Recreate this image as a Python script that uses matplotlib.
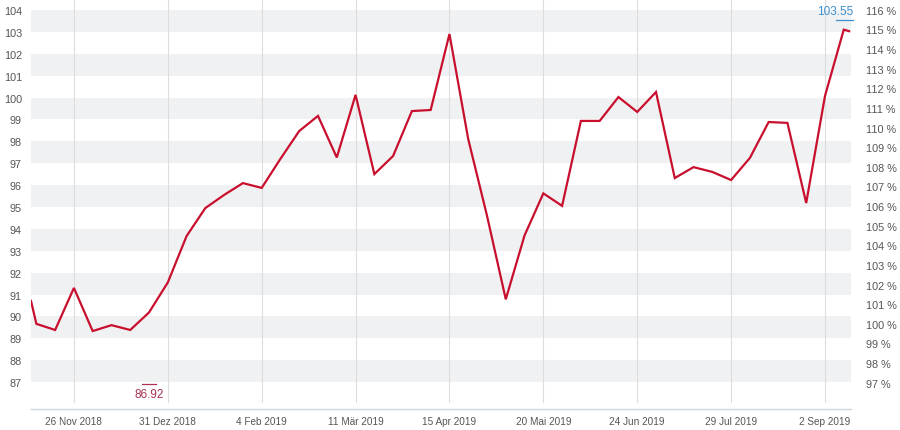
import matplotlib
matplotlib.use("Agg")
import matplotlib.pyplot as plt
import matplotlib.dates as mdates
import numpy as np
import pandas as pd

# weekly closes, plus partial first/last points
first_date = "2018-11-10"
first_value = 90.71
weekly_start = "2018-11-12"
weekly_values = [
    89.66, 89.38, 91.30, 89.33, 89.60, 89.38, 90.18, 91.55, 93.67, 94.95,
    95.55, 96.09, 95.87, 97.20, 98.47, 99.16, 97.26, 100.12, 96.50, 97.33,
    99.38, 99.43, 102.90, 98.10, 94.60, 90.78, 93.70, 95.62, 95.05, 98.93,
    98.93, 100.02, 99.34, 100.25, 96.32, 96.82, 96.60, 96.23, 97.24, 98.88,
    98.84, 95.18, 100.07, 103.10,
]
last_date = "2019-09-11"
last_value = 103.03

base_value = 89.66  # 100 % reference
low_value = 86.92
high_value = 103.55
low_date = "2018-12-24"
high_date = "2019-09-09"

tick_dates = ["2018-11-26", "2018-12-31", "2019-02-04", "2019-03-11", "2019-04-15",
              "2019-05-20", "2019-06-24", "2019-07-29", "2019-09-02"]
tick_labels = ["26 Nov 2018", "31 Dez 2018", "4 Feb 2019", "11 Mär 2019", "15 Apr 2019",
               "20 Mai 2019", "24 Jun 2019", "29 Jul 2019", "2 Sep 2019"]
left_ticks = list(range(87, 105))
right_ticks = list(range(97, 117))

dates = (
    [pd.Timestamp(first_date)]
    + list(pd.date_range(weekly_start, periods=len(weekly_values), freq="7D"))
    + [pd.Timestamp(last_date)]
)
values = [first_value] + weekly_values + [last_value]

plt.rcParams["font.family"] = ["Liberation Sans", "DejaVu Sans"]

fig = plt.figure(figsize=(9, 4.31), dpi=100)
ax = fig.add_axes([31 / 900, 21 / 431, 820 / 900, 410 / 431])

y_lo, y_hi = 85.77, 104.5
ax.set_ylim(y_lo, y_hi)
ax.set_xlim(pd.Timestamp(first_date), pd.Timestamp(last_date) + pd.Timedelta(days=0.7))

# alternating bands
for v in range(87, 104, 2):
    ax.axhspan(v, v + 1, color="#f0f1f3", lw=0, zorder=0)

for d in tick_dates:
    ax.axvline(pd.Timestamp(d), ymin=0.017, color="#dddddd", lw=0.8, zorder=1)

ax.plot(dates, values, color="#c8102e", lw=1.6, zorder=3, solid_joinstyle="miter")

# low / high markers
lo_d = mdates.date2num(pd.Timestamp(low_date))
ax.plot([lo_d - 2.6, lo_d + 2.6], [low_value, low_value], color="#a8324f", lw=0.9, zorder=4)
ax.text(lo_d, low_value - 0.2, f"{low_value:.2f}", color="#a8324f", fontsize=8.5,
        ha="center", va="top", zorder=4)
hi_d = mdates.date2num(pd.Timestamp(high_date))
ax.plot([hi_d - 3.0, hi_d + 3.3], [high_value, high_value], color="#3d8fd0", lw=0.9,
        zorder=4, clip_on=False)
ax.text(hi_d + 3.6, high_value + 0.12, f"{high_value:.2f}", color="#3d8fd0", fontsize=8.5,
        ha="right", va="bottom", zorder=4, clip_on=False)

ax.set_xticks([pd.Timestamp(d) for d in tick_dates])
ax.set_xticklabels(tick_labels)
ax.set_yticks(left_ticks)
ax.set_yticklabels([str(t) for t in left_ticks])
ax.tick_params(axis="x", length=0, pad=5, labelsize=7.2, labelcolor="#555555")
ax.tick_params(axis="y", length=0, pad=6.5, labelsize=7.8, labelcolor="#555555")

for s in ["top", "left", "right"]:
    ax.spines[s].set_visible(False)
ax.spines["bottom"].set_color("#ccd6e0")
ax.spines["bottom"].set_linewidth(1.0)

ax2 = ax.twinx()
ax2.set_ylim(y_lo / base_value * 100, y_hi / base_value * 100)
ax2.set_yticks(right_ticks)
ax2.set_yticklabels([f"{t} %" for t in right_ticks])
ax2.tick_params(axis="y", length=0, pad=10.8, labelsize=7.8, labelcolor="#555555")
for s in ["top", "left", "right", "bottom"]:
    ax2.spines[s].set_visible(False)

fig.savefig("out.png", dpi=100)
